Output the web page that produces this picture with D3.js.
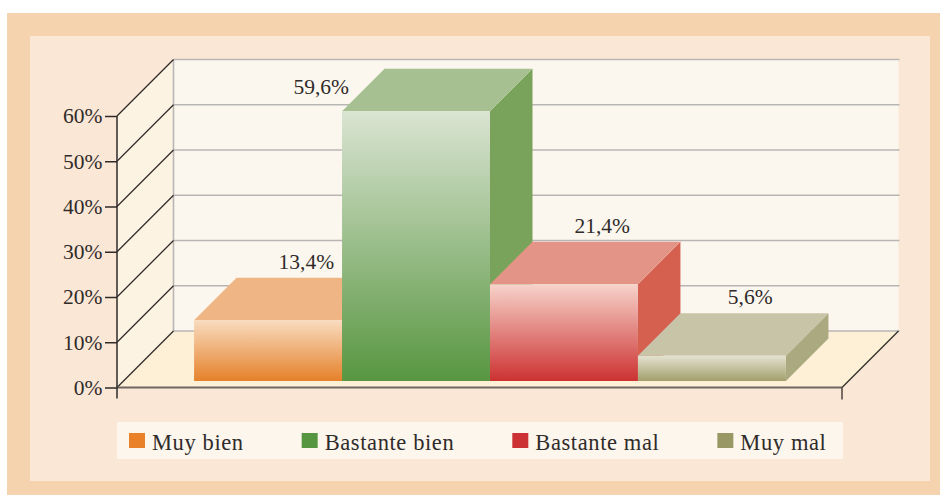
<!DOCTYPE html>
<html>
<head>
<meta charset="utf-8">
<script src="https://cdn.jsdelivr.net/npm/d3@7"></script>
<style>
  html, body { margin: 0; padding: 0; background: #ffffff; }
  svg { display: block; }
  text { font-family: "Liberation Serif", "Times New Roman", serif; fill: #2f2b2a; }
</style>
</head>
<body>
<svg id="chart" width="940" height="495"></svg>
<script>
// Valoración: porcentaje de respuestas por categoría
const categories = ["Muy bien", "Bastante bien", "Bastante mal", "Muy mal"];
const values = [13.4, 59.6, 21.4, 5.6];
const valueLabels = ["13,4%", "59,6%", "21,4%", "5,6%"];
const tickValues = [0, 10, 20, 30, 40, 50, 60];
const tickLabels = ["0%", "10%", "20%", "30%", "40%", "50%", "60%"];

// Colour per category: legend swatch, front face (light -> dark), top face, side face
const legendColors = ["#e88127", "#569641", "#cc3234", "#999864"];
const frontTop    = ["#f9dbbf", "#dae4d2", "#f7d3ca", "#e4e3d2"];
const frontBottom = ["#e5812a", "#589641", "#cc3232", "#a29e6b"];
const topColors   = ["#f0b584", "#a6c091", "#e49486", "#c8c4a7"];
const sideColors  = ["#e8954c", "#79a35b", "#d66050", "#aaa980"];

const svg = d3.select("#chart");

// Frame
svg.append("rect").attr("x", 7).attr("y", 13).attr("width", 933).attr("height", 482).attr("fill", "#f6d3af");
svg.append("rect").attr("x", 30).attr("y", 36).attr("width", 900).attr("height", 445).attr("fill", "#fbe7d5");

// 3D geometry: front plane coordinates, depth shifts points right and up
const plotLeft = 117, plotRight = 842;
const depth = 56.5;          // floor / wall depth
const barZ0 = 6.5, barZ1 = 49; // bar front and back depth

const y = d3.scaleLinear().domain([0, 60]).range([387.5, 116]);
const x = d3.scaleBand().domain(categories).range([plotLeft, plotRight])
  .paddingInner(0).paddingOuter(0.45).align(0.53);

const P = (px, py, z) => [px + z, py - z];
const poly = pts => pts.map(p => p.join(",")).join(" ");

const y0 = y(0), yTop = y(60);

// Back wall
svg.append("polygon")
  .attr("points", poly([P(plotLeft, yTop, depth), P(plotRight, yTop, depth), P(plotRight, y0, depth), P(plotLeft, y0, depth)]))
  .attr("fill", "#fcf7ee");
// Side wall
svg.append("polygon")
  .attr("points", poly([[plotLeft, y0], P(plotLeft, y0, depth), P(plotLeft, yTop, depth), [plotLeft, yTop]]))
  .attr("fill", "#fdf3e2");
// Floor
svg.append("polygon")
  .attr("points", poly([[plotLeft, y0], [plotRight, y0], P(plotRight, y0, depth), P(plotLeft, y0, depth)]))
  .attr("fill", "#fef0d6");

// Gridlines on the back wall
svg.append("g").selectAll("line").data(tickValues).join("line")
  .attr("x1", plotLeft + depth).attr("x2", plotRight + depth + 1)
  .attr("y1", d => y(d) - depth).attr("y2", d => y(d) - depth)
  .attr("stroke", "#b8b6b4").attr("stroke-width", 1.6);
// Back wall left edge
svg.append("line")
  .attr("x1", plotLeft + depth).attr("x2", plotLeft + depth)
  .attr("y1", yTop - depth).attr("y2", y0 - depth)
  .attr("stroke", "#b8b6b4").attr("stroke-width", 1.6);

// Diagonals on the side wall
svg.append("g").selectAll("line").data(tickValues).join("line")
  .attr("x1", plotLeft).attr("y1", d => y(d))
  .attr("x2", plotLeft + depth).attr("y2", d => y(d) - depth)
  .attr("stroke", "#2f2b2a").attr("stroke-width", 1.3);
// Floor right diagonal
svg.append("line")
  .attr("x1", plotRight).attr("y1", y0)
  .attr("x2", plotRight + depth).attr("y2", y0 - depth)
  .attr("stroke", "#2f2b2a").attr("stroke-width", 1.3);

// Gradients for the front faces
const defs = svg.append("defs");
categories.forEach((c, i) => {
  const g = defs.append("linearGradient").attr("id", "front" + i)
    .attr("x1", 0).attr("y1", 0).attr("x2", 0).attr("y2", 1);
  g.append("stop").attr("offset", "0%").attr("stop-color", frontTop[i]);
  g.append("stop").attr("offset", "100%").attr("stop-color", frontBottom[i]);
});

// Bars (drawn left to right so each front face hides the previous side face)
const bars = svg.append("g");
categories.forEach((c, i) => {
  const xa = x(c), xb = x(c) + x.bandwidth();
  const yt = y(values[i]);
  const g = bars.append("g");
  g.append("polygon")
    .attr("points", poly([P(xb, yt, barZ0), P(xb, yt, barZ1), P(xb, y0, barZ1), P(xb, y0, barZ0)]))
    .attr("fill", sideColors[i]);
  g.append("polygon")
    .attr("points", poly([P(xa, yt, barZ0), P(xb, yt, barZ0), P(xb, yt, barZ1), P(xa, yt, barZ1)]))
    .attr("fill", topColors[i]);
  g.append("polygon")
    .attr("points", poly([P(xa, yt, barZ0), P(xb, yt, barZ0), P(xb, y0, barZ0), P(xa, y0, barZ0)]))
    .attr("fill", `url(#front${i})`);
});

// Value labels: above the top face, or beside the bar when that would leave the wall
const labelSize = 21.5;
const labels = svg.append("g");
categories.forEach((c, i) => {
  const xa = x(c), w = x.bandwidth();
  const yt = y(values[i]);
  const backTop = yt - barZ1;
  const t = labels.append("text").attr("font-size", labelSize).text(valueLabels[i]);
  if (backTop - 9 - labelSize * 0.7 < yTop - depth) {
    t.attr("x", xa + barZ0 + 7).attr("y", yt - barZ0 - 17).attr("text-anchor", "end");
  } else {
    t.attr("x", xa + w / 2 + barZ0 + 0.9 * (barZ1 - barZ0)).attr("y", backTop - 9).attr("text-anchor", "middle");
  }
});

// Front floor edge
svg.append("line")
  .attr("x1", plotLeft).attr("x2", plotRight).attr("y1", y0).attr("y2", y0)
  .attr("stroke", "#6e6662").attr("stroke-width", 2.2);
svg.append("line")
  .attr("x1", plotRight).attr("x2", plotRight).attr("y1", y0).attr("y2", y0 + 12)
  .attr("stroke", "#2f2b2a").attr("stroke-width", 1.3);

// Y axis
const yAxis = d3.axisLeft(y).tickValues(tickValues)
  .tickFormat((d, i) => tickLabels[i]).tickSize(12).tickPadding(2.5);
const ax = svg.append("g").attr("transform", `translate(${plotLeft},0)`).call(yAxis);
ax.select(".domain").remove();
ax.selectAll(".tick line").attr("stroke", "#2f2b2a").attr("stroke-width", 1.5);
ax.selectAll(".tick text").attr("font-size", 21.5).attr("font-family", "Liberation Serif").attr("fill", "#2f2b2a");
svg.append("line")
  .attr("x1", plotLeft).attr("x2", plotLeft).attr("y1", yTop).attr("y2", y0 + 11)
  .attr("stroke", "#2f2b2a").attr("stroke-width", 1.5);

// Legend
const legend = svg.append("g");
legend.append("rect").attr("x", 117).attr("y", 422).attr("width", 726).attr("height", 37).attr("fill", "#fdf6ec");
let lx = 129;
categories.forEach((c, i) => {
  legend.append("rect").attr("x", lx).attr("y", 433).attr("width", 16).attr("height", 15).attr("fill", legendColors[i]);
  const t = legend.append("text").attr("x", lx + 23).attr("y", 450)
    .attr("font-size", 22.5).attr("letter-spacing", 0.6).text(c);
  lx += 23 + t.node().getComputedTextLength() + 58;
});
</script>
</body>
</html>
